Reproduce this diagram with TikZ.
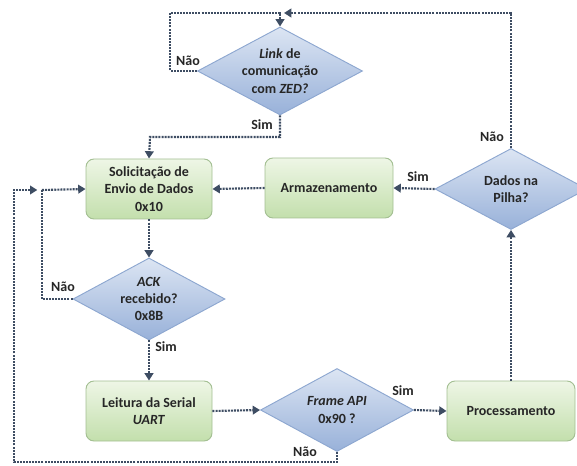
\documentclass[tikz,border=0pt]{standalone}
\usepackage{fontspec}
\setmainfont{Carlito}
\usetikzlibrary{shapes.geometric,arrows.meta}
\definecolor{lineclr}{HTML}{3E4D63}
\definecolor{boxtop}{HTML}{EEF6E6}
\definecolor{boxbot}{HTML}{C3DFAC}
\definecolor{boxedge}{HTML}{A3BF92}
\definecolor{diatop}{HTML}{DCE5F3}
\definecolor{diabot}{HTML}{98B1D9}
\definecolor{diaedge}{HTML}{8DA7D0}
\tikzset{
  txt/.style={font=\fontsize{10.5}{13}\selectfont\bfseries, text=black!85, align=center},
  procbox/.style={rectangle, rounded corners=6pt, draw=boxedge, line width=0.7pt,
    top color=boxtop, bottom color=boxbot, minimum width=#1*0.75pt, minimum height=45pt},
  decision/.style n args={2}{diamond, draw=diaedge, line width=0.7pt, inner sep=0pt,
    top color=diatop, bottom color=diabot, minimum width=#1*0.75pt, minimum height=#2*0.75pt},
  flow/.style={draw=lineclr, line width=1.6pt, dash pattern=on 1.5pt off 0.8pt,
    -{Triangle[length=5.5pt,width=6.5pt]}},
  link/.style={draw=lineclr, line width=1.6pt, dash pattern=on 1.5pt off 0.8pt},
  lbl/.style={font=\fontsize{10.5}{13}\selectfont\bfseries, text=black!85}
}
\begin{document}
\begin{tikzpicture}[x=0.75pt,y=-0.75pt]
\useasboundingbox (0,0) rectangle (577,466);
\clip (0,0) rectangle (577,466);

% decisions
\node[decision={165}{88}] (zed) at (280,71) {};
\node[txt] (zed-t) at (zed) {\textit{Link} de\\comunicação\\com \textit{ZED?}};
\node[decision={152}{82}] (ack) at (149,299) {};
\node[txt] (ack-t) at (ack) {\textit{ACK}\\recebido?\\0x8B};
\node[decision={153}{83}] (frame) at (337,410) {};
\node[txt] (frame-t) at (frame) {\textit{Frame API}\\0x90 ?};
\node[decision={152}{81}] (pilha) at (511,189) {};
\node[txt] (pilha-t) at (pilha) {Dados na\\Pilha?};

% process boxes
\node[procbox=126, txt] (sol) at (149,189) {Solicitação de\\Envio de Dados\\0x10};
\node[procbox=128, txt] (arm) at (329,188) {Armazenamento};
\node[procbox=126, txt] (lei) at (149,411) {Leitura da Serial\\\textit{UART}};
\node[procbox=128, txt] (proc) at (511,411) {Processamento};

% routing points
\coordinate (loopL) at (170,13);
\coordinate (merge) at (280,13);
\coordinate (mergeR) at (284,13);
\coordinate (simBend) at (150,137);
\coordinate (join) at (42,190);
\coordinate (outerL) at (14,462);

% connectors
\draw[flow] (zed.west) -| (loopL) -| (zed.north);
\draw[flow] (pilha.north) |- (mergeR);
\draw[flow] (zed.south) |- (simBend) -- (sol.north);
\draw[flow] (arm.west) -- (sol.east);
\draw[flow] (pilha.west) -- (arm.east);
\draw[flow] (sol.south) -- (ack.north);
\draw[link] (ack.west) -| (join);
\draw[flow] (join) -- (sol.west);
\draw[flow] (ack.south) -- (lei.north);
\draw[flow] (lei.east) -- (frame.west);
\draw[flow] (frame.east) -- (proc.west);
\draw[flow] (proc.north) -- (pilha.south);
\draw[flow] (frame.south) |- (outerL) |- ([xshift=-3.5pt]join);

% branch labels
\node[lbl] (l1) at (188,61) {Não};
\node[lbl] (l2) at (262,125) {Sim};
\node[lbl] (l3) at (492,137) {Não};
\node[lbl] (l4) at (418,177) {Sim};
\node[lbl] (l5) at (63,287) {Não};
\node[lbl] (l6) at (166,347) {Sim};
\node[lbl] (l7) at (403,391) {Sim};
\node[lbl] (l8) at (305,452) {Não};
\end{tikzpicture}
\end{document}
